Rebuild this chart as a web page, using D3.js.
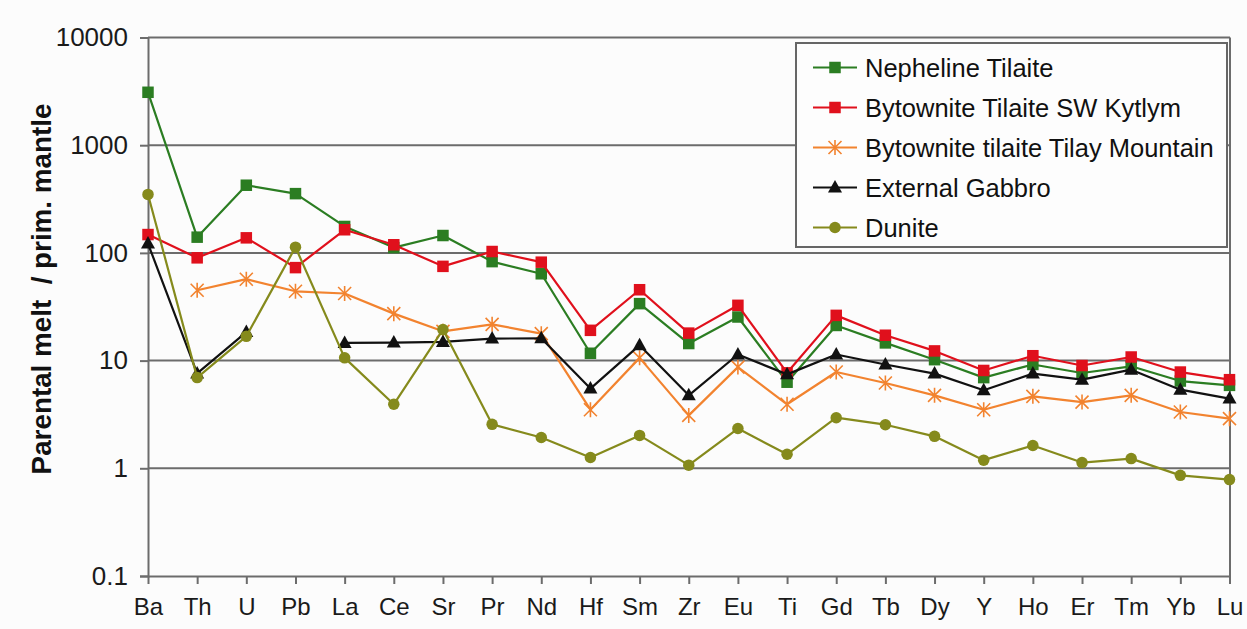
<!DOCTYPE html>
<html>
<head>
<meta charset="utf-8">
<script src="https://cdn.jsdelivr.net/npm/d3@7"></script>
<style>
  html, body { margin: 0; padding: 0; background: #fcfcfc; }
  svg { display: block; font-family: Arial, "Liberation Sans", sans-serif; }
</style>
</head>
<body>
<svg id="chart" width="1247" height="629"></svg>
<script>
// Trace elements, in plotting order
const elements = ["Ba","Th","U","Pb","La","Ce","Sr","Pr","Nd","Hf","Sm","Zr","Eu","Ti","Gd","Tb","Dy","Y","Ho","Er","Tm","Yb","Lu"];

// Parental melt normalised to primitive mantle
const nephelineTilaite = [3100,140,425,355,176,112,145,83,64,11.7,33.8,14.4,25.4,6.3,21.2,14.6,10.2,6.95,9.2,7.67,8.85,6.46,5.89];
const bytowniteSWKytlym = [148,90,138,73,164,119,75,103,82,19.1,45.5,18,32.6,7.7,26.3,17.2,12.3,8.1,11.1,9.0,10.8,7.83,6.65];
const bytowniteTilay = [null,45,57,44,42,27.3,18.7,21.7,17.8,3.5,10.6,3.1,8.7,3.93,7.83,6.19,4.76,3.5,4.66,4.12,4.76,3.33,2.89];
const externalGabbro = [122,7.6,18.4,null,14.6,14.7,14.9,16.0,16.1,5.5,13.9,4.76,11.4,7.45,11.4,9.2,7.57,5.3,7.57,6.65,8.24,5.37,4.44];
const dunite = [349,6.95,16.8,113,10.6,3.93,19.4,2.56,1.93,1.26,2.02,1.07,2.34,1.35,2.95,2.54,1.98,1.19,1.63,1.13,1.23,0.86,0.785];

const yTickValues = [0.1, 1, 10, 100, 1000, 10000];
const yTickLabels = ["0.1", "1", "10", "100", "1000", "10000"];

const seriesNames = ["Nepheline Tilaite", "Bytownite Tilaite SW Kytlym", "Bytownite tilaite Tilay Mountain", "External Gabbro", "Dunite"];
const seriesValues = [nephelineTilaite, bytowniteSWKytlym, bytowniteTilay, externalGabbro, dunite];
const seriesStyle = [
  { color: "#2b7d22", marker: "square" },
  { color: "#e0101c", marker: "square" },
  { color: "#f2832f", marker: "star" },
  { color: "#111111", marker: "triangle" },
  { color: "#858a1c", marker: "circle" }
];

const svg = d3.select("#chart");
const plotLeft = 148, plotRight = 1229.5, plotTop = 37.5, plotBottom = 576;

const x = d3.scalePoint().domain(elements).range([plotLeft, plotRight]).padding(0);
const y = d3.scaleLog().domain([0.1, 10000]).range([plotBottom, plotTop]);

const gridColor = "#6c6c6c";

// Horizontal gridlines
svg.append("g").selectAll("line").data(yTickValues.filter(v => v > 0.1)).join("line")
  .attr("x1", plotLeft).attr("x2", plotRight + 0.5)
  .attr("y1", d => y(d)).attr("y2", d => y(d))
  .attr("stroke", gridColor).attr("stroke-width", 2);

// Right border of the plot area
svg.append("line")
  .attr("x1", plotRight + 0.5).attr("x2", plotRight + 0.5).attr("y1", plotTop).attr("y2", plotBottom)
  .attr("stroke", gridColor).attr("stroke-width", 2);

// Y axis
const yAxis = d3.axisLeft(y).tickValues(yTickValues)
  .tickFormat((d, i) => yTickLabels[i]).tickSize(8).tickPadding(12);
const gy = svg.append("g").attr("transform", `translate(${plotLeft},0)`).call(yAxis);
gy.select(".domain").attr("stroke", gridColor).attr("stroke-width", 2);
gy.selectAll(".tick line").attr("stroke", gridColor).attr("stroke-width", 2);
gy.selectAll(".tick text").attr("font-size", 26).attr("fill", "#1a1a1a")
  .attr("font-family", "Arial, 'Liberation Sans', sans-serif");

// X axis
const xAxis = d3.axisBottom(x).tickSize(8).tickPadding(14).tickSizeOuter(0);
const gx = svg.append("g").attr("transform", `translate(0,${plotBottom})`).call(xAxis);
gx.select(".domain").attr("stroke", gridColor).attr("stroke-width", 2);
gx.selectAll(".tick line").attr("stroke", gridColor).attr("stroke-width", 2);
gx.selectAll(".tick text").attr("font-size", 24).attr("fill", "#1a1a1a")
  .attr("font-family", "Arial, 'Liberation Sans', sans-serif");

// Y axis title
svg.append("text")
  .attr("transform", `translate(51,289) rotate(-90)`)
  .attr("text-anchor", "middle")
  .attr("font-size", 27.8).attr("font-weight", "bold").attr("fill", "#111")
  .style("white-space", "pre")
  .text("Parental melt  / prim. mantle");

// Marker drawing
function drawMarker(g, type, color, cx, cy) {
  if (type === "square") {
    g.append("rect").attr("x", cx - 5.75).attr("y", cy - 5.75).attr("width", 11.5).attr("height", 11.5)
      .attr("fill", color);
  } else if (type === "triangle") {
    g.append("path").attr("d", `M${cx},${cy - 7.5}L${cx + 7},${cy + 5}L${cx - 7},${cy + 5}Z`)
      .attr("fill", color);
  } else if (type === "circle") {
    g.append("circle").attr("cx", cx).attr("cy", cy).attr("r", 5.75).attr("fill", color);
  } else if (type === "star") {
    const s = 6.5;
    g.append("path")
      .attr("d", `M${cx - s},${cy - s}L${cx + s},${cy + s}M${cx - s},${cy + s}L${cx + s},${cy - s}M${cx},${cy - s - 1}L${cx},${cy + s + 1}`)
      .attr("stroke", color).attr("stroke-width", 1.6).attr("fill", "none");
  }
}

// Series lines and markers
const line = d3.line()
  .defined(d => d.v != null)
  .x(d => x(d.el)).y(d => y(d.v));

seriesValues.forEach((vals, i) => {
  const st = seriesStyle[i];
  const pts = elements.map((el, j) => ({ el, v: vals[j] }));
  const g = svg.append("g");
  g.append("path").datum(pts).attr("d", line)
    .attr("fill", "none").attr("stroke", st.color).attr("stroke-width", 2.2)
    .attr("stroke-linejoin", "round");
  pts.filter(d => d.v != null).forEach(d => drawMarker(g, st.marker, st.color, x(d.el), y(d.v)));
});

// Legend
const legend = svg.append("g");
legend.append("rect").attr("x", 796).attr("y", 43).attr("width", 431).attr("height", 204)
  .attr("fill", "#fdfdfd").attr("stroke", "#666").attr("stroke-width", 2);
seriesNames.forEach((name, i) => {
  const st = seriesStyle[i];
  const ly = 67.5 + i * 40;
  const g = legend.append("g");
  g.append("line").attr("x1", 813).attr("x2", 857).attr("y1", ly).attr("y2", ly)
    .attr("stroke", st.color).attr("stroke-width", 2.2);
  drawMarker(g, st.marker, st.color, 835, ly);
  g.append("text").attr("x", 865).attr("y", ly).attr("dy", "0.36em")
    .attr("font-size", 25.5).attr("fill", "#111").text(name);
});
</script>
</body>
</html>
